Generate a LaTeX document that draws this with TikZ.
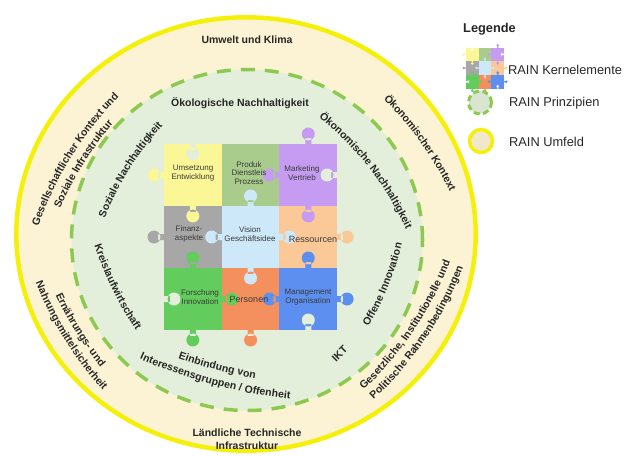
\documentclass[tikz,border=0pt]{standalone}
\usepackage{fontspec}
\setmainfont{Liberation Sans}
\usetikzlibrary{decorations.text}
\definecolor{ringcream}{HTML}{FCF2D4}
\definecolor{ringyellow}{HTML}{F5F00A}
\definecolor{innergreen}{HTML}{E3EFDA}
\definecolor{dashgreen}{HTML}{8CC950}
\definecolor{ringink}{HTML}{262626}
\definecolor{cellink}{HTML}{3A3A3A}
\definecolor{rainyellow}{HTML}{FBF797}
\definecolor{rainolive}{HTML}{A9CB8C}
\definecolor{rainpurple}{HTML}{C59CF2}
\definecolor{raingray}{HTML}{A7A7A7}
\definecolor{rainlblue}{HTML}{CDE8F8}
\definecolor{rainpeach}{HTML}{FBC898}
\definecolor{raingreen}{HTML}{62CC5C}
\definecolor{rainorange}{HTML}{F4905E}
\definecolor{rainblue}{HTML}{5C8FEF}
\colorlet{holefill}{innergreen}
\newcommand\ringfont{\fontsize{10.5}{12}\selectfont\bfseries}
\tikzset{
  ringtext/.style={decorate, decoration={text along path, text align=center,
      raise=-3pt, text color=ringink, text={|\ringfont|#1}}},
  ringlabel/.style={font=\ringfont, text=ringink, inner sep=0pt, align=center},
  celllabel/.style={font=\fontsize{8}{8.5}\selectfont, text=cellink, inner sep=0pt, align=center},
  legendtext/.style={font=\fontsize{12.8}{14}\selectfont, text=ringink, inner sep=0pt, anchor=west}
}
% one puzzle tab: colour, edge point, direction
\newcommand\knob[4]{\fill[#1,shift={(#2,#3)},rotate=#4] (-1,-3) rectangle (6,3) (10,0) circle[radius=6.5];}
\newcommand\raincore{%
  \foreach \c/\i/\j in {rainyellow/0/0, rainolive/1/0, rainpurple/2/0,
      raingray/0/1, rainlblue/1/1, rainpeach/2/1,
      raingreen/0/2, rainorange/1/2, rainblue/2/2}{
    \fill[\c] ({164+\i*57.7},{-144-\j*62}) rectangle ++(57.7,-62);
  }
  \foreach \c/\x/\y/\a in {rainpurple/279.4/-175/180, rainyellow/192.85/-206/270,
      rainlblue/250.55/-206/90, rainpurple/308.25/-206/270,
      rainlblue/221.7/-237/180, rainlblue/279.4/-237/0,
      raingreen/192.85/-268/90, rainlblue/250.55/-268/270, rainblue/308.25/-268/90,
      raingreen/221.7/-299/0, rainblue/279.4/-299/180,
      rainpurple/308.25/-144/90, rainyellow/164/-175/180, raingray/164/-237/180,
      rainpeach/337.1/-237/0, rainblue/337.1/-299/0,
      raingreen/192.85/-330/270, rainorange/250.55/-330/270,
      holefill/192.85/-144/270, holefill/164/-299/0,
      holefill/308.25/-330/90, holefill/337.1/-175/180}{
    \knob{\c}{\x}{\y}{\a}
  }
}
% curved labels: mid point, direction, radius, text
\newcommand\ringout[5]{%
  \pgfmathsetmacro\arcstart{90+6300/#4}
  \pgfmathsetmacro\arcend{90-6300/#4}
  \path[ringtext={#5}, shift={(#1,#2)}, rotate=#3]
    (0,-#4) ++(\arcstart:#4) arc[start angle=\arcstart, end angle=\arcend, radius=#4];}
\newcommand\ringin[5]{%
  \pgfmathsetmacro\arcstart{270-6300/#4}
  \pgfmathsetmacro\arcend{270+6300/#4}
  \path[ringtext={#5}, shift={(#1,#2)}, rotate=#3]
    (0,#4) ++(\arcstart:#4) arc[start angle=\arcstart, end angle=\arcend, radius=#4];}
\begin{document}
\begin{tikzpicture}[x=1pt,y=1pt]
  \useasboundingbox (0,0) rectangle (628,-455);
  % Umfeld and Prinzipien
  \draw[ringyellow, line width=4.5pt, fill=ringcream] (246,-234) ellipse [x radius=229.7, y radius=216.7];
  \draw[dashgreen, line width=3.5pt, dash pattern=on 14pt off 10pt, fill=innergreen] (247,-240) ellipse [x radius=175.5, y radius=170.5];
  % Kernelemente
  \raincore
  \node[celllabel] (umsetzung) at (193,-173) {Umsetzung\\Entwicklung};
  \node[celllabel] (produkt) at (249,-173) {Produk\\Dienstleis\\Prozess};
  \node[celllabel] (marketing) at (302,-173) {Marketing\\Vertrieb};
  \node[celllabel] (finanz) at (189,-234) {Finanz-\\aspekte};
  \node[celllabel] (vision) at (250,-234) {Vision\\Geschäftsidee};
  \node[celllabel, font=\fontsize{9}{10}\selectfont] (ressourcen) at (313,-239) {Ressourcen};
  \node[celllabel] (forschung) at (200,-297) {Forschung\\Innovation};
  \node[celllabel, font=\fontsize{9}{10}\selectfont] (personen) at (249,-299) {Personen};
  \node[celllabel] (management) at (308,-297) {Management\\Organisation};
  % ring labels
  \node[ringlabel] (umwelt) at (247,-40) {Umwelt und Klima};
  \node[ringlabel] (oekologisch) at (240,-103.5) {Ökologische Nachhaltigkeit};
  \node[ringlabel, font=\fontsize{10.5}{13}\selectfont\bfseries] (laendlich) at (247,-439) {Ländliche Technische\\Infrastruktur};
  \ringout{69}{-155.5}{58}{350}{Gesellschaftlicher Kontext und}
  \ringout{81}{-162.5}{58}{350}{Soziale Infrastruktur}
  \ringout{127}{-167.5}{58}{300}{Soziale Nachhaltigkeit}
  \ringin{115}{-288}{-64}{350}{Kreislaufwirtschaft}
  \ringin{78.5}{-331}{-58}{350}{Ernährungs- und}
  \ringin{67}{-338}{-58}{350}{Nahrungsmittelsicherheit}
  \ringin{217}{-367}{-15}{500}{Einbindung von}
  \ringin{214}{-382}{-15}{500}{Interessensgruppen / Offenheit}
  \ringin{340}{-354}{45}{1000}{IKT}
  \ringin{411.5}{-329}{56}{350}{Gesetzliche, Institutionelle und}
  \ringin{423.5}{-337}{56}{350}{Politische Rahmenbedingungen}
  \ringin{385.5}{-285.5}{68}{300}{Offene Innovation}
  \ringout{371.5}{-166.5}{-52}{300}{Ökonomische Nachhaltigkeit}
  \ringout{423}{-141}{-54.5}{350}{Ökonomischer Kontext}
  % Legende
  \node[legendtext, font=\fontsize{12.8}{14}\selectfont\bfseries] (legende) at (463,-29) {Legende};
  \begin{scope}[shift={(429.9,-15.9)}, scale=0.22]
    \colorlet{holefill}{white}
    \raincore
  \end{scope}
  \node[legendtext] (kern) at (508,-70) {RAIN Kernelemente};
  \draw[dashgreen, line width=3pt, dash pattern=on 6pt off 3.5pt, fill=innergreen!90!gray] (480,-102.5) circle[radius=11.5];
  \node[legendtext] (prinzipien) at (509,-103) {RAIN Prinzipien};
  \draw[ringyellow, line width=3.5pt, fill=ringcream!90!gray] (481,-141) circle[radius=11.5];
  \node[legendtext] (umfeld) at (509,-142) {RAIN Umfeld};
\end{tikzpicture}
\end{document}
